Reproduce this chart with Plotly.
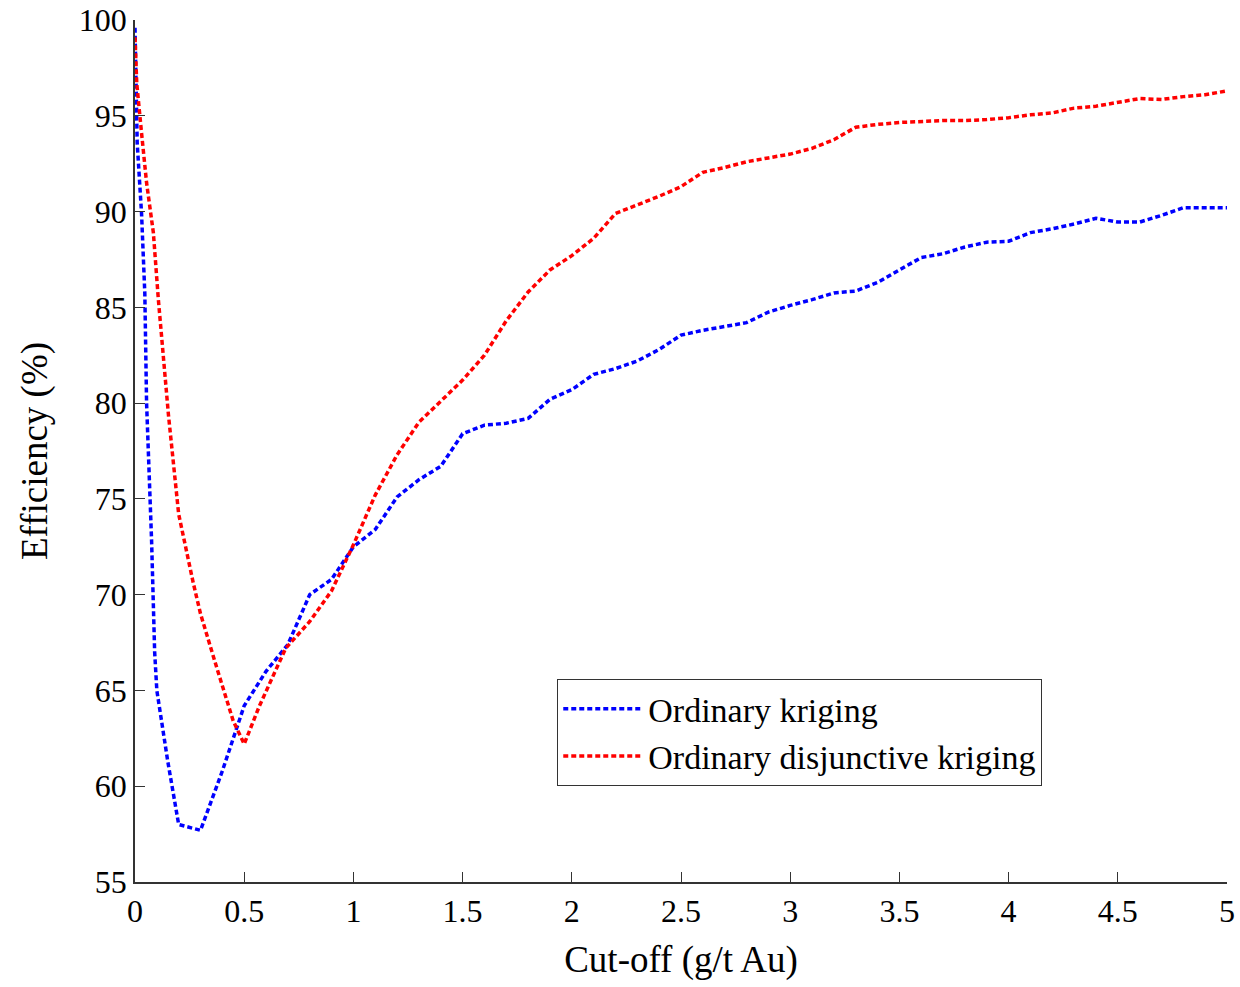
import plotly.graph_objects as go

# Ordinary kriging (blue)
ok_x = [0, 0.01, 0.03, 0.045, 0.053, 0.069, 0.076, 0.09, 0.1, 0.15, 0.2, 0.3, 0.4, 0.5, 0.6, 0.7, 0.8, 0.9, 1.0,
        1.1, 1.2, 1.3, 1.4, 1.5, 1.6, 1.7, 1.8, 1.9, 2.0, 2.1, 2.2, 2.3, 2.4, 2.5, 2.6, 2.7, 2.8, 2.9, 3.0,
        3.1, 3.2, 3.3, 3.4, 3.5, 3.6, 3.7, 3.8, 3.9, 4.0, 4.1, 4.2, 4.3, 4.4, 4.5, 4.6, 4.7, 4.8, 4.9, 5.0]
ok_y = [99.6, 93.6, 89.9, 85.7, 80.0, 75.0, 72.8, 67.0, 65.0, 61.3, 58.0, 57.7, 60.8, 64.2, 66.0, 67.4, 70.0, 70.8, 72.5,
        73.4, 75.1, 76.0, 76.7, 78.4, 78.85, 78.95, 79.2, 80.2, 80.7, 81.5, 81.8, 82.2, 82.8, 83.55, 83.8, 84.0, 84.2, 84.75, 85.1,
        85.4, 85.75, 85.85, 86.3, 86.95, 87.6, 87.8, 88.15, 88.4, 88.45, 88.9, 89.1, 89.35, 89.65, 89.45, 89.45, 89.8, 90.2, 90.2, 90.2]

# Ordinary disjunctive kriging (red)
odk_x = [0, 0.008, 0.03, 0.053, 0.084, 0.107, 0.153, 0.2, 0.267, 0.3, 0.374, 0.45, 0.5, 0.57, 0.69, 0.8, 0.9, 1.0,
         1.1, 1.2, 1.3, 1.4, 1.5, 1.6, 1.7, 1.8, 1.9, 2.0, 2.1, 2.2, 2.3, 2.4, 2.5, 2.6, 2.7, 2.8, 2.9, 3.0,
         3.1, 3.2, 3.3, 3.4, 3.5, 3.6, 3.7, 3.8, 3.9, 4.0, 4.1, 4.2, 4.3, 4.4, 4.5, 4.6, 4.7, 4.8, 4.9, 5.0]
odk_y = [99.1, 96.7, 94.1, 91.5, 88.9, 85.4, 79.4, 74.2, 70.6, 69.0, 66.2, 63.4, 62.2, 64.2, 67.2, 68.6, 70.2, 72.6,
         75.2, 77.3, 79.0, 80.1, 81.2, 82.5, 84.3, 85.8, 86.95, 87.7, 88.6, 89.9, 90.35, 90.8, 91.3, 92.05, 92.3, 92.6, 92.8, 93.0,
         93.3, 93.75, 94.4, 94.55, 94.65, 94.7, 94.75, 94.75, 94.8, 94.9, 95.05, 95.15, 95.4, 95.5, 95.7, 95.9, 95.85, 96.0, 96.1, 96.3]

x_ticks = [0, 0.5, 1, 1.5, 2, 2.5, 3, 3.5, 4, 4.5, 5]
y_ticks = [55, 60, 65, 70, 75, 80, 85, 90, 95, 100]

FONT = "Liberation Serif, Times New Roman, serif"

fig = go.Figure()
fig.add_trace(go.Scatter(x=ok_x, y=ok_y, mode="lines", name="Ordinary kriging",
                         line=dict(color="#0000ff", width=3.5, dash="5px,3px")))
fig.add_trace(go.Scatter(x=odk_x, y=odk_y, mode="lines", name="Ordinary disjunctive kriging",
                         line=dict(color="#ff0000", width=3.5, dash="5px,3px")))

axis_common = dict(showgrid=False, zeroline=False, showline=True, linecolor="#333333", linewidth=1.5,
                   ticks="inside", ticklen=10, tickcolor="#333333", tickwidth=1.2, automargin=False,
                   tickfont=dict(family=FONT, size=32, color="black"))

fig.update_layout(
    width=1240, height=987,
    margin=dict(l=135, r=13, t=20, b=105),
    paper_bgcolor="white", plot_bgcolor="white",
    font=dict(family=FONT, color="black"),
    xaxis=dict(range=[0, 5], tickvals=x_ticks, ticktext=[str(t) for t in x_ticks],
               title=dict(text="Cut-off (g/t Au)", font=dict(family=FONT, size=37), standoff=18),
               **axis_common),
    yaxis=dict(range=[55, 100], tickvals=y_ticks,
               title=dict(text="Efficiency (%)", font=dict(family=FONT, size=37), standoff=20),
               **axis_common),
    legend=dict(x=0.3865, y=0.2355, xanchor="left", yanchor="top",
                bgcolor="white", bordercolor="#333333", borderwidth=1.2,
                font=dict(family=FONT, size=34, color="black"),
                itemwidth=80, tracegroupgap=0),
    showlegend=True,
)

fig.write_html("out.html")
